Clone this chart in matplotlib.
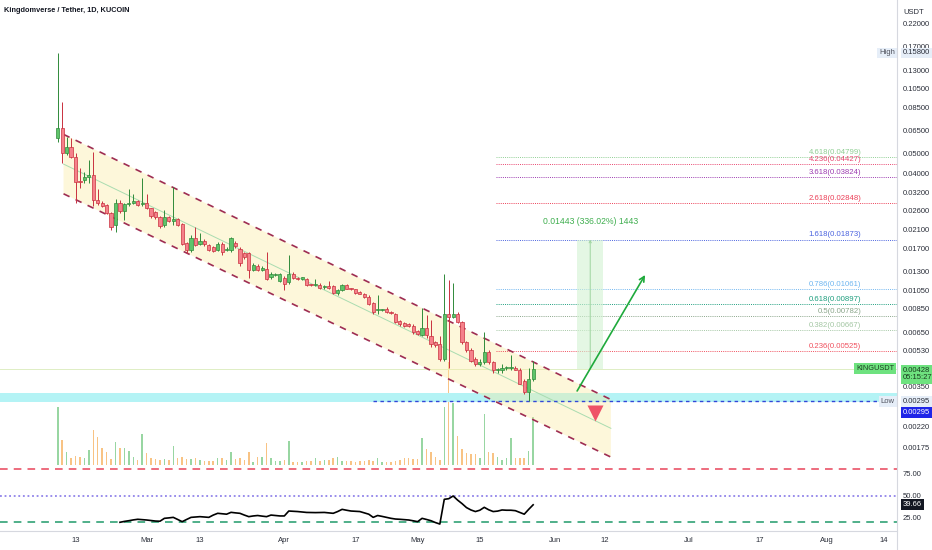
import numpy as np
import matplotlib
matplotlib.use("Agg")
import matplotlib.pyplot as plt
from matplotlib.ticker import NullLocator
from matplotlib.patches import Polygon, Rectangle
from matplotlib.lines import Line2D

plt.rcParams['font.family'] = ['Liberation Sans', 'DejaVu Sans']

# KING/USDT daily candles, 2023-02-09 .. 2023-05-27 (index 0 = Feb 9)
opens = [0.0600, 0.0668, 0.0502, 0.0538, 0.0483, 0.0363, 0.0370, 0.0384, 0.0392, 0.0294,
         0.0286, 0.0277, 0.0255, 0.0221, 0.0286, 0.0261, 0.0280, 0.0283, 0.0290, 0.0280,
         0.0286, 0.0268, 0.0257, 0.0243, 0.0221, 0.0243, 0.0232, 0.0237, 0.0223, 0.0180,
         0.0166, 0.0190, 0.0178, 0.0185, 0.0176, 0.0172, 0.0166, 0.0179, 0.0166, 0.0166,
         0.0180, 0.0169, 0.0160, 0.0160, 0.0133, 0.0139, 0.0133, 0.0134, 0.0122, 0.0125,
         0.0117, 0.0121, 0.0115, 0.0127, 0.0121, 0.0120, 0.0119, 0.0112, 0.0111, 0.0112,
         0.0109, 0.0110, 0.0110, 0.0102, 0.0105, 0.0111, 0.0107, 0.0106, 0.0103, 0.0101,
         0.0097, 0.0091, 0.0084, 0.0084, 0.0085, 0.0082, 0.0080, 0.0074, 0.0072, 0.0071,
         0.0070, 0.0066, 0.0063, 0.0068, 0.0062, 0.0058, 0.0057, 0.0048, 0.0080, 0.0077,
         0.0080, 0.0073, 0.0058, 0.0053, 0.0048, 0.0045, 0.0046, 0.0052, 0.0046, 0.0042,
         0.0042, 0.0043, 0.0043, 0.0043, 0.0042, 0.0037, 0.0033, 0.0038]
highs = [0.1580, 0.0905, 0.0607, 0.0596, 0.0504, 0.0424, 0.0407, 0.0465, 0.0510, 0.0332,
         0.0290, 0.0280, 0.0258, 0.0297, 0.0296, 0.0286, 0.0332, 0.0316, 0.0293, 0.0378,
         0.0316, 0.0270, 0.0260, 0.0245, 0.0263, 0.0245, 0.0343, 0.0240, 0.0226, 0.0182,
         0.0197, 0.0215, 0.0201, 0.0188, 0.0178, 0.0174, 0.0182, 0.0182, 0.0172, 0.0192,
         0.0184, 0.0172, 0.0163, 0.0163, 0.0143, 0.0141, 0.0139, 0.0163, 0.0130, 0.0128,
         0.0128, 0.0123, 0.0157, 0.0129, 0.0122, 0.0122, 0.0121, 0.0113, 0.0120, 0.0114,
         0.0111, 0.0116, 0.0111, 0.0106, 0.0113, 0.0113, 0.0108, 0.0107, 0.0104, 0.0102,
         0.0099, 0.0092, 0.0099, 0.0085, 0.0087, 0.0083, 0.0081, 0.0075, 0.0073, 0.0072,
         0.0071, 0.0067, 0.0086, 0.0079, 0.0075, 0.0059, 0.0062, 0.0126, 0.0118, 0.0114,
         0.0082, 0.0074, 0.0059, 0.0054, 0.0049, 0.0048, 0.0065, 0.0053, 0.0047, 0.0043,
         0.0045, 0.0044, 0.0050, 0.0044, 0.0043, 0.0038, 0.0043, 0.0047]
lows = [0.0573, 0.0451, 0.0492, 0.0474, 0.0284, 0.0336, 0.0356, 0.0356, 0.0275, 0.0278,
        0.0272, 0.0250, 0.0209, 0.0204, 0.0255, 0.0234, 0.0276, 0.0280, 0.0276, 0.0276,
        0.0265, 0.0240, 0.0238, 0.0213, 0.0217, 0.0229, 0.0221, 0.0218, 0.0176, 0.0160,
        0.0162, 0.0174, 0.0176, 0.0175, 0.0164, 0.0163, 0.0164, 0.0157, 0.0165, 0.0163,
        0.0171, 0.0139, 0.0150, 0.0121, 0.0131, 0.0131, 0.0131, 0.0118, 0.0120, 0.0123,
        0.0115, 0.0105, 0.0113, 0.0120, 0.0118, 0.0118, 0.0110, 0.0110, 0.0110, 0.0106,
        0.0107, 0.0107, 0.0100, 0.0099, 0.0104, 0.0106, 0.0105, 0.0101, 0.0100, 0.0096,
        0.0089, 0.0080, 0.0080, 0.0083, 0.0081, 0.0080, 0.0072, 0.0070, 0.0069, 0.0069,
        0.0064, 0.0063, 0.0062, 0.0061, 0.0055, 0.0055, 0.0047, 0.0047, 0.0043, 0.0076,
        0.0072, 0.0057, 0.0052, 0.0046, 0.0044, 0.0044, 0.0045, 0.0045, 0.0041, 0.0041,
        0.0041, 0.0042, 0.0042, 0.0042, 0.0036, 0.0032, 0.00295, 0.0037]
closes = [0.0668, 0.0505, 0.0541, 0.0483, 0.0363, 0.0360, 0.0384, 0.0392, 0.0294, 0.0286,
          0.0276, 0.0255, 0.0217, 0.0286, 0.0261, 0.0282, 0.0283, 0.0290, 0.0279, 0.0284,
          0.0268, 0.0245, 0.0243, 0.0218, 0.0243, 0.0232, 0.0237, 0.0221, 0.0179, 0.0166,
          0.0190, 0.0176, 0.0185, 0.0178, 0.0166, 0.0165, 0.0179, 0.0163, 0.0169, 0.0190,
          0.0174, 0.0144, 0.0154, 0.0132, 0.0140, 0.0133, 0.0136, 0.0120, 0.0127, 0.0126,
          0.0126, 0.0113, 0.0127, 0.0121, 0.0119, 0.0121, 0.0111, 0.0111, 0.0112, 0.0108,
          0.0109, 0.0108, 0.0102, 0.0105, 0.0111, 0.0107, 0.0106, 0.0102, 0.0101, 0.0097,
          0.0090, 0.0082, 0.0085, 0.0084, 0.0082, 0.0081, 0.0073, 0.0071, 0.0070, 0.0070,
          0.0065, 0.0064, 0.0068, 0.0063, 0.0057, 0.0056, 0.0048, 0.0080, 0.0077, 0.0080,
          0.0073, 0.0058, 0.0053, 0.0047, 0.0045, 0.0046, 0.0052, 0.0046, 0.0042, 0.0042,
          0.0043, 0.0043, 0.0043, 0.0042, 0.0036, 0.0033, 0.0038, 0.00428]
# volume, arbitrary units
volumes = [583, 250, 127, 73, 93, 83, 73, 150, 350, 283,
           173, 127, 60, 233, 167, 173, 140, 83, 50, 307,
           117, 73, 60, 50, 60, 50, 193, 73, 83, 60,
           60, 67, 50, 40, 40, 40, 67, 73, 50, 133,
           60, 67, 50, 133, 33, 83, 83, 217, 67, 40,
           40, 50, 240, 27, 27, 27, 40, 40, 73, 40,
           50, 50, 73, 83, 40, 40, 40, 33, 40, 40,
           50, 40, 67, 33, 30, 33, 40, 50, 67, 67,
           60, 60, 267, 160, 133, 83, 50, 583, 1030, 617,
           293, 160, 117, 107, 107, 73, 507, 133, 117, 83,
           50, 67, 273, 67, 67, 73, 140, 483]
rsi_start = 14
rsi = [19.8, 20.8, 21.6, 22.5, 23.2, 22.8, 22.4, 21.8, 21.2, 21.0,
       24.3, 24.8, 25.4, 23.0, 20.5, 23.0, 25.4, 25.8, 26.2, 25.8,
       25.4, 28.0, 30.0, 29.5, 29.0, 31.1, 30.5, 30.0, 28.0, 26.2,
       27.0, 27.5, 26.8, 26.2, 28.0, 27.5, 27.0, 27.0, 32.6, 32.3,
       32.0, 31.5, 31.0, 30.9, 30.8, 30.9, 31.0, 30.5, 30.0, 32.0,
       34.5, 33.5, 32.6, 32.3, 32.0, 30.5, 29.0, 25.4, 27.5, 26.5,
       25.4, 24.3, 23.5, 23.2, 22.8, 22.4, 21.5, 20.5, 24.3, 23.0,
       21.6, 19.5, 17.8, 45.9, 46.6, 49.7, 45.0, 41.0, 36.5, 33.8,
       32.0, 33.5, 36.8, 34.0, 32.0, 32.5, 33.8, 33.5, 33.5, 33.0,
       31.0, 29.0, 34.5, 39.66]

# time axis (day index) labels
tick_days = [4, 20, 32, 51, 67, 81, 95, 112, 123, 142, 158, 173, 186]
tick_text = ['13', 'Mar', '13', 'Apr', '17', 'May', '15', 'Jun', '12', 'Jul', '17', 'Aug', '14']
price_ticks = [0.22, 0.17, 0.13, 0.105, 0.085, 0.065, 0.05, 0.04, 0.032, 0.026, 0.021,
               0.017, 0.013, 0.0105, 0.0085, 0.0065, 0.0053, 0.0035, 0.0022, 0.00175]
rsi_ticks = [75, 50, 25]

# fib extension levels
fib_ratio = ['4.618', '4.236', '3.618', '2.618', '1.618', '0.786', '0.618', '0.5', '0.382', '0.236']
fib_price = [0.04799, 0.04427, 0.03824, 0.02848, 0.01873, 0.01061, 0.00897, 0.00782, 0.00667, 0.00525]
fib_color = ['#8fce93', '#e8456f', '#9c3bb0', '#ec4058', '#4a63df', '#6fb6f0',
             '#1e9e7e', '#8aa58a', '#a4c7a4', '#f0505e']
fib_start = 98.6

# descending channel
channel_days = [1.3, 124.5]
channel_upper = [0.0623, 0.00301]
channel_lower = [0.0316, 0.00156]

last_price = 0.00428
low_price = 0.00295
high_price = 0.158
zone_lo, zone_hi = 0.00293, 0.00324
low_line_start = 71
target_price = 0.01873
proj_label = '0.01443 (336.02%) 1443'
proj_days = (116.9, 122.8)
arrow_from = (116.9, 0.00332)
arrow_to = (132.2, 0.0125)
marker_down = (120.9, 0.00258)

W, H = 932, 550
XLIM = (-13.0, 188.9)
AX_R = 897 / W

fig = plt.figure(figsize=(W / 100, H / 100), dpi=100)
fig.patch.set_facecolor('white')
ax_v = fig.add_axes([0, 85 / H, AX_R, 465 / H])
ax = fig.add_axes([0, 85 / H, AX_R, 465 / H], sharex=ax_v)
ax_r = fig.add_axes([0, 19 / H, AX_R, 66 / H], sharex=ax_v)
ax.patch.set_visible(False)

x = np.arange(len(opens))
o, h, l, c = (np.array(a) for a in (opens, highs, lows, closes))
up = c >= o

# volume underlay
ax_v.bar(x, volumes, width=0.34, color=np.where(up, '#98d6a2', '#f8c384'), zorder=1)
ax_v.set_ylim(0, 4650)
ax_v.axis('off')

# main price pane
ax.set_yscale('log')
ax.set_ylim(0.001425, 0.2893)
ax.set_xlim(*XLIM)

ax.axhspan(zone_lo, zone_hi, color='#b4f3f5', lw=0, zorder=0.5)
ax.axhline(last_price, color='#dfeec4', lw=0.7, zorder=0.6)
ax.hlines(low_price, low_line_start, XLIM[1], colors='#3346d8', lw=1.0,
          linestyles=(0, (2.5, 2.5)), zorder=2)

poly = [(channel_days[0], channel_lower[0]), (channel_days[1], channel_lower[1]),
        (channel_days[1], channel_upper[1]), (channel_days[0], channel_upper[0])]
ax.add_patch(Polygon(poly, closed=True, fc='#fbeaa0', alpha=0.38, ec='none', zorder=0.8))
mid = np.sqrt(np.array(channel_upper) * np.array(channel_lower))
ax.plot(channel_days, mid, color='#a9dcb0', lw=0.7, zorder=1)
for ys in (channel_upper, channel_lower):
    ax.plot(channel_days, ys, color='#9e2d52', lw=1.2, ls=(0, (4, 4)), zorder=2)

for ratio, price, col in zip(fib_ratio, fib_price, fib_color):
    ax.hlines(price, fib_start, XLIM[1], colors=col, lw=0.7, linestyles=(0, (1, 1.2)), zorder=1)
    ax.annotate(f'{ratio}({price:.5f})', xy=(180.9, price), xytext=(0, 0.8),
                textcoords='offset points', ha='right', va='bottom', fontsize=5.6, color=col)

# projection box
ax.add_patch(Rectangle((proj_days[0], last_price), proj_days[1] - proj_days[0],
                       target_price - last_price, fc='#d3f3d3', alpha=0.6, ec='none', zorder=1))
pmid = (proj_days[0] + proj_days[1]) / 2
ax.annotate('', xy=(pmid, target_price), xytext=(pmid, last_price),
            arrowprops=dict(arrowstyle='->', color='#9fd4a0', lw=0.7, mutation_scale=4,
                            shrinkA=0, shrinkB=0), zorder=2)
ax.text(pmid, 0.0229, proj_label, ha='center', va='center', fontsize=6.2, color='#3fae4f')

ax.annotate('', xy=arrow_to, xytext=arrow_from,
            arrowprops=dict(arrowstyle='->', color='#1faa3c', lw=1.2, mutation_scale=9,
                            shrinkA=0, shrinkB=0), zorder=5)
ax.plot(*marker_down, marker='v', ms=12, color='#ef5367', mec='none', zorder=5)

# candles
edge = np.where(up, '#2f8a3a', '#c9303f')
body = np.where(up, '#5fc46a', '#f5818a')
ax.vlines(x, l, h, colors=edge, lw=0.7, zorder=3)
lo_b = np.minimum(o, c)
hi_b = np.maximum(np.maximum(o, c), lo_b * 1.012)
ax.bar(x, hi_b - lo_b, bottom=lo_b, width=0.72, color=body, edgecolor=edge, lw=0.5, zorder=4)

ax.yaxis.set_minor_locator(NullLocator())
ax.set_yticks(price_ticks)
ax.set_yticklabels([f'{p:.5f}' for p in price_ticks])
ax.tick_params(axis='y', which='both', left=False, right=False, labelleft=False,
               labelright=True, length=0, pad=4.3, labelsize=5.5, labelcolor='#2a2e39')
ax.tick_params(axis='x', bottom=False, labelbottom=False)
for s in ax.spines.values():
    s.set_visible(False)

tag_box = dict(boxstyle='square,pad=0.25', ec='none')
ax.annotate('USDT', xy=(1.0067, 1), xytext=(0, -9), textcoords='offset points',
            xycoords='axes fraction', ha='left', va='center', fontsize=5.5, color='#2a2e39',
            annotation_clip=False)
ax.annotate('High', xy=(0.9975, high_price), xycoords=('axes fraction', 'data'), ha='right',
            va='center', fontsize=5.5, color='#50535e', bbox=dict(fc='#e6eef8', **tag_box))
ax.annotate(f'{high_price:.5f}', xy=(1.0067, high_price), xycoords=('axes fraction', 'data'),
            ha='left', va='center', fontsize=5.5, color='#2a2e39',
            bbox=dict(fc='#e6eef8', **tag_box), annotation_clip=False)
ax.annotate('KINGUSDT', xy=(0.997, last_price), xycoords=('axes fraction', 'data'), ha='right',
            va='center', fontsize=5.3, color='#1a3d1f', bbox=dict(fc='#6ee27f', **tag_box))
ax.annotate(f'{last_price:.5f}\n05:15:27', xy=(1.0067, last_price), xytext=(0, -4),
            textcoords='offset points', xycoords=('axes fraction', 'data'), ha='left',
            va='center', fontsize=5.5, color='#1a3d1f', linespacing=1.05,
            bbox=dict(boxstyle='square,pad=0.3', fc='#6ee27f', ec='none'), annotation_clip=False)
ax.annotate('Low', xy=(0.9975, low_price), xycoords=('axes fraction', 'data'), ha='right',
            va='center', fontsize=5.5, color='#50535e', bbox=dict(fc='#e6eef8', **tag_box))
ax.annotate(f'{low_price:.5f}', xy=(1.0067, low_price), xycoords=('axes fraction', 'data'),
            ha='left', va='center', fontsize=5.5, color='#2a2e39',
            bbox=dict(fc='#e6eef8', **tag_box), annotation_clip=False)
ax.annotate(f'{low_price:.5f}', xy=(1.0067, low_price), xytext=(0, -7.8),
            textcoords='offset points', xycoords=('axes fraction', 'data'), ha='left',
            va='center', fontsize=5.5, color='white', bbox=dict(fc='#1f25e8', **tag_box),
            annotation_clip=False)

ax.text(0.004, 1 - 11 / 465, 'Kingdomverse / Tether, 1D, KUCOIN', transform=ax.transAxes,
        ha='left', va='center', fontsize=5.3, fontweight='bold', color='#131722')

# RSI pane
ax_r.set_ylim(9.9, 84.9)
ax_r.plot(np.arange(rsi_start, rsi_start + len(rsi)), rsi, color='black', lw=1.2, zorder=3)
ax_r.axhline(80, color='#e8445a', lw=1.1, ls=(0, (5, 4)))
ax_r.axhline(50, color='#7d6ee6', lw=1.1, ls=(0, (1.2, 1.8)))
ax_r.axhline(20, color='#1f9a6a', lw=1.1, ls=(0, (5, 4)))
ax_r.set_yticks(rsi_ticks)
ax_r.set_yticklabels([f'{v:.2f}' for v in rsi_ticks])
ax_r.tick_params(axis='y', left=False, right=False, labelleft=False, labelright=True,
                 length=0, pad=4.3, labelsize=5.5, labelcolor='#2a2e39')
ax_r.annotate(f'{rsi[-1]:.2f}', xy=(1.0067, rsi[-1]), xycoords=('axes fraction', 'data'),
              ha='left', va='center', fontsize=5.5, color='white',
              bbox=dict(fc='#131722', **tag_box), annotation_clip=False)
ax_r.set_xticks(tick_days)
ax_r.set_xticklabels(tick_text)
ax_r.tick_params(axis='x', length=0, pad=4.5, labelsize=5.5, labelcolor='#2a2e39')
ax_r.set_xlim(*XLIM)
for k, s in ax_r.spines.items():
    s.set_visible(k == 'bottom')
ax_r.spines['bottom'].set_color('#d6d8df')
ax_r.spines['bottom'].set_linewidth(0.8)

fig.add_artist(Line2D([AX_R, AX_R], [0, 1], transform=fig.transFigure, color='#d6d8df', lw=0.8))

fig.savefig('out.png', dpi=100, facecolor='white')
